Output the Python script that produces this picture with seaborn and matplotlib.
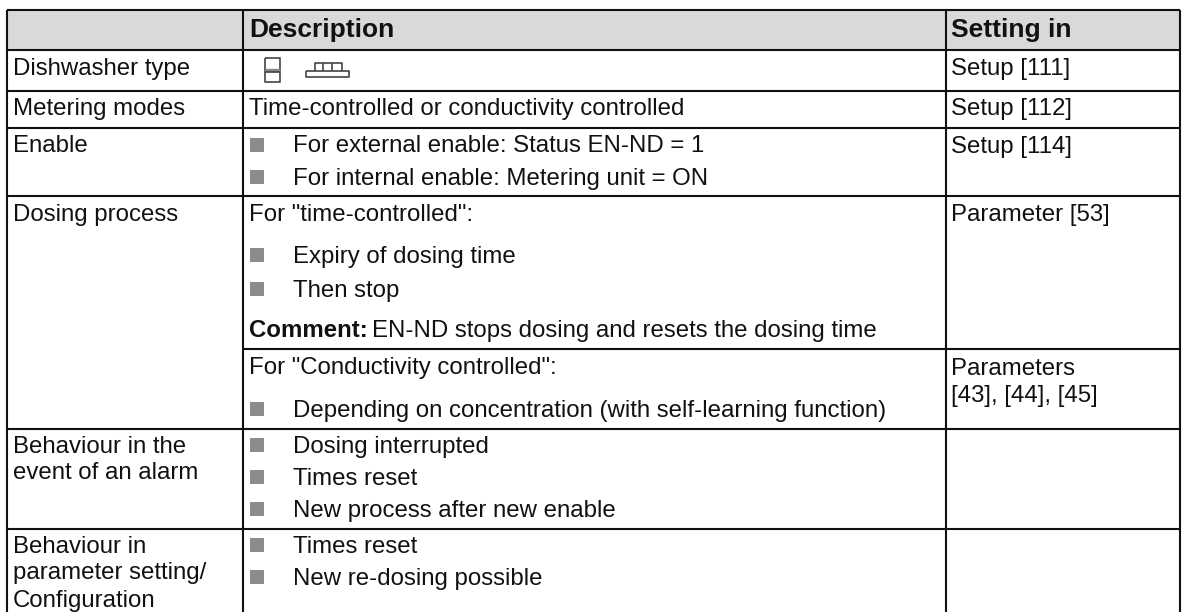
#table of dishwasher dosing settings, drawn on a pixel sized axes
import matplotlib
matplotlib.use('Agg')
import matplotlib.pyplot as plt
import seaborn as sns

# text content
headers = ['Description', 'Setting in']
row_labels = ['Dishwasher type', 'Metering modes', 'Enable', 'Dosing process',
              'Behaviour in the', 'event of an alarm',
              'Behaviour in', 'parameter setting/', 'Configuration']
settings = ['Setup [111]', 'Setup [112]', 'Setup [114]', 'Parameter [53]',
            'Parameters', '[43], [44], [45]']
plain_lines = ['Time-controlled or conductivity controlled',
               'For "time-controlled":',
               'For "Conductivity controlled":']
comment_bold = 'Comment:'
comment_text = 'EN-ND stops dosing and resets the dosing time'
bullets = ['For external enable: Status EN-ND = 1',
           'For internal enable: Metering unit = ON',
           'Expiry of dosing time',
           'Then stop',
           'Depending on concentration (with self-learning function)',
           'Dosing interrupted',
           'Times reset',
           'New process after new enable',
           'Times reset',
           'New re-dosing possible']

# layout in pixels
W, H = 1183, 612
col_x = [7.5, 243, 946, 1180]
full_rows = [10, 49.5, 91, 127.5, 196, 428.5, 528.5]
inner_row = 349
header_base = 37
label_base = [74.5, 115.5, 152.5, 221, 453, 479, 553, 579, 607]
setting_base = [74.5, 115.5, 152.5, 221, 375, 402]
plain_base = [115.5, 221, 374]
comment_base = 337
bullet_base = [152.5, 184.5, 263, 296.5, 416.5, 453, 485, 517, 553, 585]
FS = 17.25
FS_HEAD = 19

sns.set_theme(style='white')
plt.rcParams['font.family'] = ['Liberation Sans', 'DejaVu Sans']

fig = plt.figure(figsize=(W / 100, H / 100), dpi=100)
ax = fig.add_axes([0, 0, 1, 1])
ax.set_xlim(0, W)
ax.set_ylim(H, 0)
ax.axis('off')

# header band
ax.fill_between(col_x[:1] + col_x[-1:], full_rows[0], full_rows[1], color='#d9d9d9', lw=0)

# grid
for y in full_rows:
    ax.plot([col_x[0], col_x[-1]], [y, y], color='#111111', lw=1.5, solid_capstyle='butt')
ax.plot([col_x[1], col_x[-1]], [inner_row, inner_row], color='#111111', lw=1.5, solid_capstyle='butt')
for x in col_x:
    ax.plot([x, x], [full_rows[0], H], color='#111111', lw=1.5, solid_capstyle='butt')

# square bullets
sns.scatterplot(x=[257] * len(bullets), y=[b - 7.8 for b in bullet_base], marker='s',
                s=100, color='#8c8c8c', linewidth=0, ax=ax, legend=False, zorder=3)

# dishwasher icons
ic = dict(color='#444444', lw=1.2, solid_capstyle='butt')
ax.plot([265, 280, 280, 265, 265], [58, 58, 82, 82, 58], **ic)
ax.plot([265, 280], [69.5, 69.5], color='#888888', lw=2.4, solid_capstyle='butt')
ax.plot([265, 280], [71.5, 71.5], **ic)
ax.plot([306, 349, 349, 306, 306], [70.5, 70.5, 77, 77, 70.5], **ic)
ax.plot([315, 315, 342, 342], [70.5, 62.5, 62.5, 70.5], **ic)
ax.plot([323, 323], [62.5, 70.5], **ic)
ax.plot([332, 332], [62.5, 70.5], **ic)

# text
txt = dict(fontsize=FS, color='#111111', va='baseline')
head = dict(fontsize=FS_HEAD, color='#111111', va='baseline', fontweight='bold')
ax.text(col_x[1] + 6, header_base, headers[0], **head)
ax.text(col_x[2] + 5, header_base, headers[1], **head)
for s, y in zip(row_labels, label_base):
    ax.text(13, y, s, **txt)
for s, y in zip(settings, setting_base):
    ax.text(951.5, y, s, **txt)
for s, y in zip(plain_lines, plain_base):
    ax.text(249, y, s, **txt)
for s, y in zip(bullets, bullet_base):
    ax.text(293.5, y, s, **txt)
ax.text(249, comment_base, comment_bold, fontweight='bold', **txt)
ax.text(372.5, comment_base, comment_text, **txt)

plt.savefig('out.png', dpi=100)
